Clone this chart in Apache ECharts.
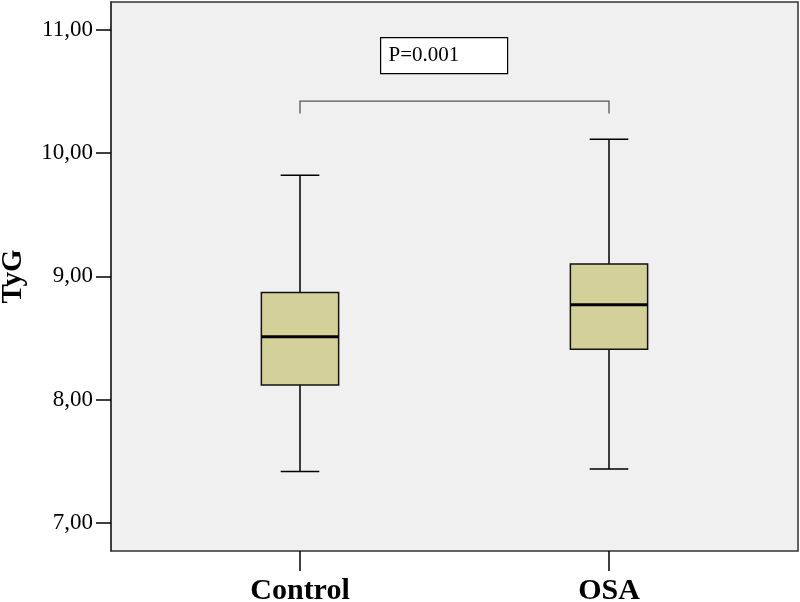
<!DOCTYPE html>
<html>
<head>
<meta charset="utf-8">
<script src="https://cdn.jsdelivr.net/npm/echarts@6/dist/echarts.min.js"></script>
<style>
  html, body { margin: 0; padding: 0; background: #fff; }
  #main { width: 800px; height: 602px; }
</style>
</head>
<body>
<div id="main"></div>
<script>
// data
var groups = ['Control', 'OSA'];
var lowWhisker = [7.42, 7.44];
var q1 = [8.12, 8.41];
var median = [8.51, 8.77];
var q3 = [8.87, 9.10];
var highWhisker = [9.82, 10.11];
var yTicks = [7, 8, 9, 10, 11];
var yMin = 6.775, yMax = 11.223;
var pText = 'P=0.001';
var bracketTop = 10.42, bracketFoot = 10.32;

var serif = "'Liberation Serif', 'Times New Roman', serif";

var boxData = groups.map(function (g, i) {
    return [i, lowWhisker[i], q1[i], median[i], q3[i], highWhisker[i]];
});

var chart = echarts.init(document.getElementById('main'));

//箱线图
function renderBox(params, api) {
    var x = api.value(0);
    var pLow = api.coord([x, api.value(1)]);
    var pQ1 = api.coord([x, api.value(2)]);
    var pMed = api.coord([x, api.value(3)]);
    var pQ3 = api.coord([x, api.value(4)]);
    var pHigh = api.coord([x, api.value(5)]);
    var band = api.size([1, 0])[0];
    var half = band * 0.125;
    var cap = half / 2;
    var cx = pMed[0];
    var line = {stroke: '#000', lineWidth: 1.5};
    return {
        type: 'group',
        children: [
            {type: 'line', shape: {x1: cx, y1: pLow[1], x2: cx, y2: pQ1[1]}, style: line},
            {type: 'line', shape: {x1: cx, y1: pQ3[1], x2: cx, y2: pHigh[1]}, style: line},
            {type: 'line', shape: {x1: cx - cap, y1: pLow[1], x2: cx + cap, y2: pLow[1]}, style: line},
            {type: 'line', shape: {x1: cx - cap, y1: pHigh[1], x2: cx + cap, y2: pHigh[1]}, style: line},
            {
                type: 'rect',
                shape: {x: cx - half, y: pQ3[1], width: half * 2, height: pQ1[1] - pQ3[1]},
                style: {fill: '#d4d09a', stroke: '#111', lineWidth: 1.5}
            },
            {type: 'line', shape: {x1: cx - half, y1: pMed[1], x2: cx + half, y2: pMed[1]}, style: {stroke: '#000', lineWidth: 3}}
        ]
    };
}

function renderBracket(params, api) {
    var a0 = api.coord([api.value(0), api.value(3)]);
    var a1 = api.coord([api.value(0), api.value(2)]);
    var b1 = api.coord([api.value(1), api.value(2)]);
    var b0 = api.coord([api.value(1), api.value(3)]);
    return {
        type: 'polyline',
        shape: {points: [a0, a1, b1, b0]},
        style: {stroke: '#555', lineWidth: 1.3, fill: null}
    };
}

chart.setOption({
    animation: false,
    backgroundColor: '#fff',
    grid: [
        {left: 111, right: 2, top: 2, bottom: 51, outerBoundsMode: 'none', containLabel: false,
            show: true, backgroundColor: '#f0f0f0', borderColor: '#333', borderWidth: 1.5},
        {left: 145.5, right: 36.5, top: 2, bottom: 51, outerBoundsMode: 'none', containLabel: false}
    ],
    xAxis: [
        {type: 'value', gridIndex: 0, show: false},
        {
            type: 'category', gridIndex: 1, data: groups,
            axisLine: {show: false},
            axisTick: {show: true, alignWithLabel: true, length: 20, lineStyle: {color: '#000', width: 1.5}},
            axisLabel: {margin: 25, color: '#000', fontFamily: serif, fontWeight: 'bold', fontSize: 30}
        }
    ],
    yAxis: [
        {
            type: 'value', gridIndex: 0, min: yMin, max: yMax,
            name: 'TyG', nameLocation: 'middle', nameGap: 83, nameRotate: 90,
            nameTextStyle: {color: '#000', fontFamily: serif, fontWeight: 'bold', fontSize: 29},
            splitLine: {show: false},
            axisLine: {show: true, lineStyle: {color: '#333', width: 1.5}},
            axisTick: {show: true, length: 15, customValues: yTicks, lineStyle: {color: '#000', width: 1.5}},
            axisLabel: {
                margin: 18, color: '#000', fontFamily: serif, fontSize: 23, customValues: yTicks,
                formatter: function (v) { return v.toFixed(2).replace('.', ','); }
            }
        },
        {type: 'value', gridIndex: 1, min: yMin, max: yMax, show: false}
    ],
    graphic: [{
        type: 'group', left: 380, top: 37,
        children: [
            {type: 'rect', shape: {x: 0, y: 0, width: 127, height: 36}, style: {fill: '#fff', stroke: '#000', lineWidth: 1.2}},
            {type: 'text', x: 8, y: 18, style: {text: pText, fill: '#000', font: '21px ' + serif, verticalAlign: 'middle'}}
        ]
    }],
    series: [
        {type: 'custom', xAxisIndex: 1, yAxisIndex: 1, data: [[0, 1, bracketTop, bracketFoot]], renderItem: renderBracket, silent: true},
        {type: 'custom', xAxisIndex: 1, yAxisIndex: 1, data: boxData, renderItem: renderBox, silent: true}
    ]
});
window.onresize = chart.resize;
</script>
</body>
</html>
